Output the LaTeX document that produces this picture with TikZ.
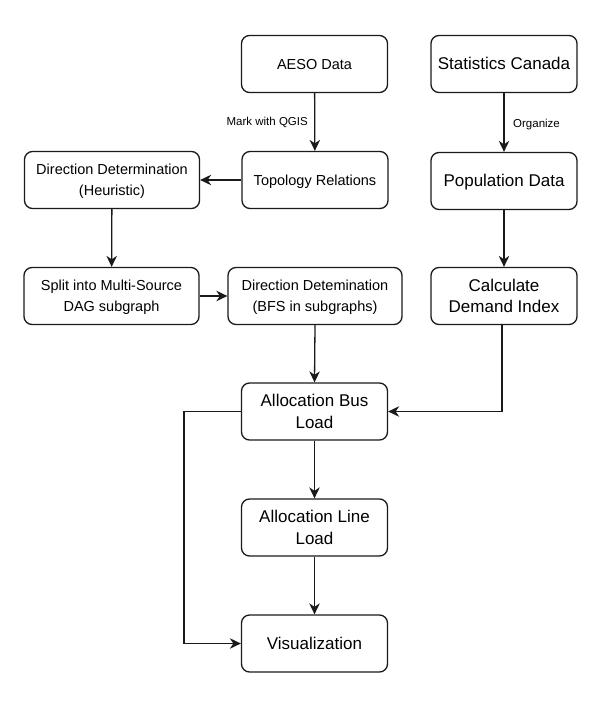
\documentclass[tikz,border=0pt]{standalone}
\usepackage{fontspec}
\setmainfont{Liberation Sans}
\usetikzlibrary{arrows.meta}
\definecolor{ink}{HTML}{1A1A1A}
\newcommand\myTopStrut{\rule{0pt}{0.9em}}
\newcommand\myBotStrut{\rule[-0.21em]{0pt}{0.21em}}
\begin{document}
\begin{tikzpicture}[x=1pt,y=-1pt,
  box/.style={draw=ink, line width=1.3pt, rounded corners=8pt, fill=white,
    minimum width=146pt, minimum height=57pt, inner sep=0pt, align=center, text=black},
  small/.style={font=\fontsize{14.5}{21.7}\selectfont},
  big/.style={font=\fontsize{17}{21.7}\selectfont},
  conn/.style={draw=ink, line width=1.3pt, -{Stealth[length=11pt,width=10.5pt,inset=3.5pt]}},
  elabel/.style={font=\fontsize{11.5}{14}\selectfont, text=black, inner sep=0pt}
]
\useasboundingbox (0,0) rectangle (606,701);

\node[box,small] (aeso) at (314.5,64) {\myTopStrut AESO Data\myBotStrut};
\node[box,big] (statcan) at (504,64) {\myTopStrut Statistics Canada\myBotStrut};
\node[box,small] (topo) at (315,180) {\myTopStrut Topology Relations\myBotStrut};
\node[box,small,minimum width=175pt] (heur) at (112,180) {\myTopStrut Direction Determination\\(Heuristic)\myBotStrut};
\node[box,big] (pop) at (504,181) {\myTopStrut Population Data\myBotStrut};
\node[box,small,minimum width=175pt] (split) at (111.5,296) {\myTopStrut Split into Multi-Source\\DAG subgraph\myBotStrut};
\node[box,small,minimum width=174pt] (bfs) at (315,296) {\myTopStrut Direction Detemination\\(BFS in subgraphs)\myBotStrut};
\node[box,big] (calc) at (504,296) {\myTopStrut Calculate\\Demand Index\myBotStrut};
\node[box,big] (bus) at (314.5,411.5) {\myTopStrut Allocation Bus\\Load\myBotStrut};
\node[box,big] (line) at (314.5,527.5) {\myTopStrut Allocation Line\\Load\myBotStrut};
\node[box,big] (vis) at (314.5,643.5) {\myTopStrut Visualization\myBotStrut};

\coordinate (c1) at (502,411.5);
\coordinate (l1) at (184,411.5);
\coordinate (l2) at (184,643.5);

\draw[conn] (aeso) -- (topo);
\node[elabel, anchor=east] (mq) at (308,122.5) {Mark with QGIS};
\draw[conn] (statcan) -- (pop);
\node[elabel, anchor=west] (org) at (513,125) {Organize};
\draw[conn] (topo) -- (heur);
\draw[conn] (heur) -- (split);
\draw[conn] (split) -- (bfs);
\draw[conn] (pop) -- (calc);
\draw[conn] (bfs.south) -- (bus.north);
\draw[conn] (calc.south -| c1) -- (c1) -- (bus.east);
\draw[conn] (bus) -- (line);
\draw[conn] (line) -- (vis);
\draw[conn] (bus.west) -- (l1) -- (l2) -- (vis.west);
\end{tikzpicture}
\end{document}
